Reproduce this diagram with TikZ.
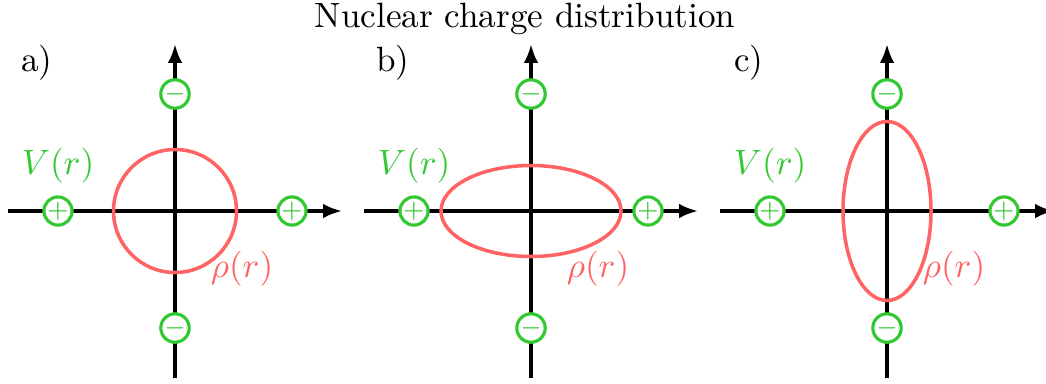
\documentclass[tikz,border=0pt]{standalone}
\usepackage{amsmath}
\usepackage{xcolor}
\definecolor{chgreen}{RGB}{50,200,50}
\definecolor{rhored}{RGB}{255,99,99}
\usepackage{tikz}
\usetikzlibrary{arrows.meta, positioning}

\begin{document}
\begin{tikzpicture}[
  axis/.style={line width=1pt, -{Latex[length=5.4pt,width=4.2pt]}},
  charge/.style={circle, draw=chgreen, fill=white, line width=0.9pt, inner sep=0pt, minimum size=0.2cm, text=chgreen, font=\scriptsize},
  density/.style={draw=rhored, line width=1pt},
  potlabel/.style={text=chgreen},
  rholabel/.style={text=rhored}
]
  \useasboundingbox (0,0) rectangle (10.46,3.83);

  % Title
  \node (title) at (5.25,3.645) {Nuclear charge distribution};

  % Panel a: spherical
  \node (a-tag) at (0.37,3.20) {a)};
  \coordinate (a-W) at (0.08,1.72);
  \coordinate (a-E) at (3.42,1.72);
  \coordinate (a-S) at (1.75,0.05);
  \coordinate (a-N) at (1.75,3.39);
  \draw[axis] (a-W) -- (a-E);
  \draw[axis] (a-S) -- (a-N);
  \draw[density] (1.75,1.72) circle (0.615);
  \node[charge] (a-qW) at (0.58,1.72) {$+$};
  \node[charge] (a-qE) at (2.92,1.72) {$+$};
  \node[charge] (a-qN) at (1.75,2.89) {$-$};
  \node[charge] (a-qS) at (1.75,0.55) {$-$};
  \node[potlabel, above=0pt of a-qW] (a-V) {$V(r)$};
  \node[rholabel] (a-rho) at (2.42,1.14) {$\rho(r)$};

  % Panel b: oblate
  \node (b-tag) at (3.93,3.20) {b)};
  \coordinate (b-W) at (3.64,1.72);
  \coordinate (b-E) at (6.98,1.72);
  \coordinate (b-S) at (5.31,0.05);
  \coordinate (b-N) at (5.31,3.39);
  \draw[axis] (b-W) -- (b-E);
  \draw[axis] (b-S) -- (b-N);
  \draw[density] (5.31,1.72) ellipse (0.90 and 0.455);
  \node[charge] (b-qW) at (4.14,1.72) {$+$};
  \node[charge] (b-qE) at (6.48,1.72) {$+$};
  \node[charge] (b-qN) at (5.31,2.89) {$-$};
  \node[charge] (b-qS) at (5.31,0.55) {$-$};
  \node[potlabel, above=0pt of b-qW] (b-V) {$V(r)$};
  \node[rholabel] (b-rho) at (5.98,1.14) {$\rho(r)$};

  % Panel c: prolate
  \node (c-tag) at (7.49,3.20) {c)};
  \coordinate (c-W) at (7.20,1.72);
  \coordinate (c-E) at (10.54,1.72);
  \coordinate (c-S) at (8.87,0.05);
  \coordinate (c-N) at (8.87,3.39);
  \draw[axis] (c-W) -- (c-E);
  \draw[axis] (c-S) -- (c-N);
  \draw[density] (8.87,1.72) ellipse (0.44 and 0.895);
  \node[charge] (c-qW) at (7.70,1.72) {$+$};
  \node[charge] (c-qE) at (10.04,1.72) {$+$};
  \node[charge] (c-qN) at (8.87,2.89) {$-$};
  \node[charge] (c-qS) at (8.87,0.55) {$-$};
  \node[potlabel, above=0pt of c-qW] (c-V) {$V(r)$};
  \node[rholabel] (c-rho) at (9.54,1.14) {$\rho(r)$};
\end{tikzpicture}
\end{document}
